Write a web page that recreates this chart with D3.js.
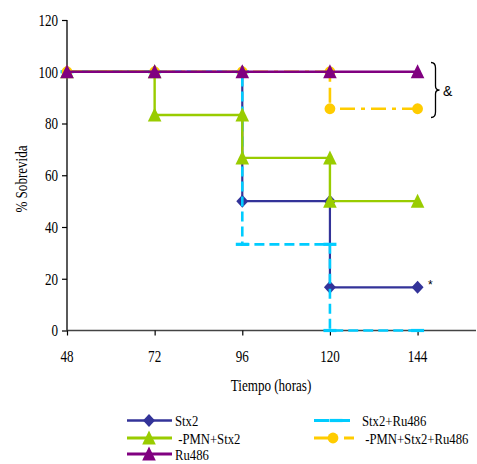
<!DOCTYPE html>
<html><head><meta charset="utf-8">
<script src="https://cdn.jsdelivr.net/npm/d3@7/dist/d3.min.js"></script>
<style>body{margin:0;background:#fff}svg{display:block}</style>
</head><body>
<script>
// ---- data ----
const xTicks = [48, 72, 96, 120, 144];
const yTicks = [0, 20, 40, 60, 80, 100, 120];
const stx2T   = [48, 72, 96, 96, 120, 120, 144];
const stx2V   = [100, 100, 100, 50, 50, 16.7, 16.7];
const stx2RuT = [48, 72, 96, 96, 120, 120, 144];
const stx2RuV = [100, 100, 100, 33.3, 33.3, 0, 0];
const pmnT    = [48, 72, 72, 96, 96, 120, 120, 144];
const pmnV    = [100, 100, 83.3, 83.3, 66.7, 66.7, 50, 50];
const pmnRuT  = [48, 72, 96, 120, 120, 144];
const pmnRuV  = [100, 100, 100, 100, 85.7, 85.7];
const ruT     = [48, 72, 96, 120, 144];
const ruV     = [100, 100, 100, 100, 100];
const names   = ["Stx2", "Stx2+Ru486", " -PMN+Stx2", " -PMN+Stx2+Ru486", "Ru486"];

const W = 477, H = 464;
const svg = d3.select("body").append("svg").attr("width", W).attr("height", H);
const x = d3.scaleLinear().domain([48, 160]).range([67, 476]);
const y = d3.scaleLinear().domain([0, 120]).range([330.5, 20]);
const SERIF = "Liberation Serif, Times New Roman, serif";
const FS = 17, SX = 0.77;

const series = [
  {t: stx2T, v: stx2V, color: "#333399", dash: null, marker: "diamond", w: 2.2},
  {t: stx2RuT, v: stx2RuV, color: "#00CCFF", dash: "10,5", marker: "bar", w: 2.6},
  {t: pmnT, v: pmnV, color: "#99CC00", dash: null, marker: "triangle", w: 2.4},
  {t: pmnRuT, v: pmnRuV, color: "#FFCC00", dash: "15,6,4,6", marker: "circle", w: 2.6},
  {t: ruT, v: ruV, color: "#800080", dash: null, marker: "triangle", w: 2.6}
];

function marker(g, type, cx, cy, color) {
  if (type === "diamond") {
    g.append("path").attr("d", `M${cx},${cy-6.5}L${cx+6},${cy}L${cx},${cy+6.5}L${cx-6},${cy}Z`).attr("fill", color);
  } else if (type === "triangle") {
    g.append("path").attr("d", `M${cx},${cy-7.5}L${cx+6.8},${cy+6.5}L${cx-6.8},${cy+6.5}Z`).attr("fill", color);
  } else if (type === "circle") {
    g.append("circle").attr("cx", cx).attr("cy", cy).attr("r", 5.4).attr("fill", color);
  } else if (type === "bar") {
    g.append("rect").attr("x", cx-6.5).attr("y", cy-1.6).attr("width", 13).attr("height", 3.2).attr("fill", color);
  }
}

function label(text, tx, ty, opts = {}) {
  const g = svg.append("g").attr("transform",
    `translate(${tx},${ty})` + (opts.rot ? ` rotate(${opts.rot})` : "") + ` scale(${opts.sx || SX},1)`);
  g.append("text").text(text)
    .attr("font-family", opts.family || SERIF)
    .attr("font-size", opts.fs || FS)
    .attr("text-anchor", opts.anchor || "start")
    .attr("fill", "#000")
    .style("white-space", "pre");
  return g;
}

// ---- axes ----
const yAxis = svg.append("g").attr("transform", "translate(67,0)")
  .call(d3.axisLeft(y).tickValues(yTicks).tickSize(5).tickFormat(""));
const xAxis = svg.append("g").attr("transform", "translate(0,330.5)")
  .call(d3.axisBottom(x).tickValues(xTicks).tickSize(5).tickFormat(""));
yAxis.select(".domain").attr("d", `M-0,${y(0)}V${y(120)}`).attr("stroke", "#000").attr("stroke-width", 1.3);
xAxis.select(".domain").attr("d", `M67,0H476`).attr("stroke", "#444").attr("stroke-width", 1.3);
yAxis.selectAll(".tick line").attr("stroke", "#000").attr("stroke-width", 1.2);
xAxis.selectAll(".tick line").attr("stroke", "#000").attr("stroke-width", 1.2);

yTicks.forEach(d => label(String(d), 58, y(d) + 5.8, {anchor: "end"}));
xTicks.forEach(d => label(String(d), x(d), 362, {anchor: "middle"}));

label("% Sobrevida", 27, 179, {rot: -90, anchor: "middle"});
label("Tiempo (horas)", 271, 391, {anchor: "middle"});

// ---- series ----
const line = d3.line().x(d => x(d[0])).y(d => y(d[1]));
series.forEach(s => {
  const g = svg.append("g");
  const pts = s.t.map((t, i) => [t, s.v[i]]);
  g.append("path").attr("d", line(pts)).attr("fill", "none")
    .attr("stroke", s.color).attr("stroke-width", s.w)
    .attr("stroke-dasharray", s.dash);
  pts.forEach(p => marker(g, s.marker, x(p[0]), y(p[1]), s.color));
});

// ---- annotations ----
svg.append("path")
  .attr("d", "M431,62.5Q435.5,62.5 435.5,68L435.5,86Q435.5,90 439.5,90Q435.5,90 435.5,94L435.5,112Q435.5,117.5 431,117.5")
  .attr("fill", "none").attr("stroke", "#000").attr("stroke-width", 1.3);
svg.append("text").text("&").attr("x", 443).attr("y", 96)
  .attr("font-family", "Liberation Sans, Arial, sans-serif").attr("font-size", 14).attr("fill", "#000");
svg.append("text").text("*").attr("x", 428).attr("y", 289)
  .attr("font-family", "Liberation Sans, Arial, sans-serif").attr("font-size", 12).attr("fill", "#000");

// ---- legend ----
const legendPos = [
  {x1: 127, x2: 172, ly: 420.5, tx: 175, mx: 149},
  {x1: 314, x2: 354, ly: 420.5, tx: 362, mx: 336},
  {x1: 127, x2: 172, ly: 438, tx: 175, mx: 149},
  {x1: 314, x2: 354, ly: 438, tx: 362, mx: 333},
  {x1: 127, x2: 172, ly: 454, tx: 175, mx: 149}
];
series.forEach((s, i) => {
  const p = legendPos[i];
  const g = svg.append("g");
  g.append("line").attr("x1", p.x1).attr("x2", p.x2).attr("y1", p.ly).attr("y2", p.ly)
    .attr("stroke", s.color).attr("stroke-width", s.w + 0.4)
    .attr("stroke-dasharray", s.dash ? (i === 1 ? "15,6" : "14,6,4,6") : null);
  marker(g, s.marker, p.mx, p.ly, s.color);
  label(names[i], p.tx, p.ly + 5.5, {fs: 15.5, sx: 0.82});
});
</script>
</body></html>
